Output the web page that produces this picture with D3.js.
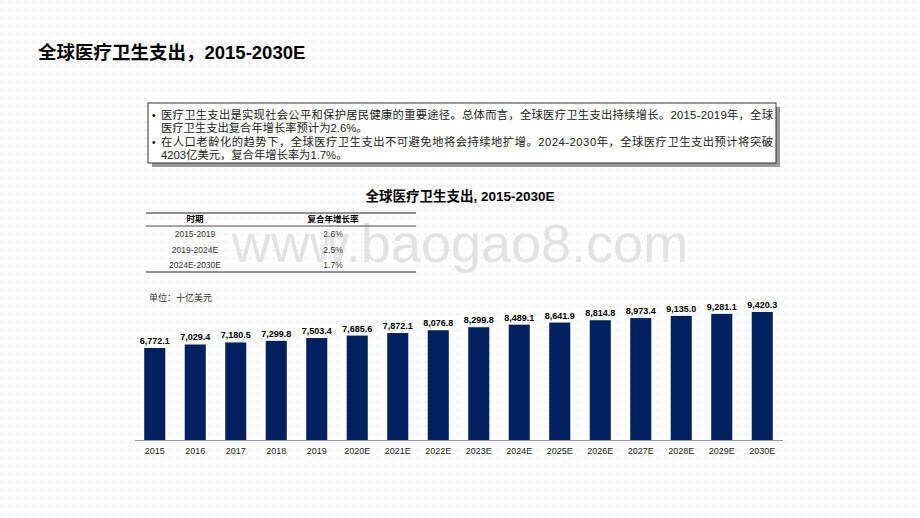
<!DOCTYPE html>
<meta charset="utf-8">
<style>
body { margin: 0; background: #fff; font-family: "Liberation Sans", "Noto Sans CJK SC", sans-serif; }
</style>
<body>
<svg id="chart" width="920" height="518"></svg>
<script src="https://cdn.jsdelivr.net/npm/d3@7"></script>
<script>
var years = ['2015','2016','2017','2018','2019','2020E','2021E','2022E','2023E','2024E','2025E','2026E','2027E','2028E','2029E','2030E'];
var spend = [6772.1,7029.4,7180.5,7299.8,7503.4,7685.6,7872.1,8076.8,8299.8,8489.1,8641.9,8814.8,8973.4,9135.0,9281.1,9420.3];
var periods = ['2015-2019','2019-2024E','2024E-2030E'];
var cagr = ['2.6%','2.5%','1.7%'];
var bullets = [
    ['医疗卫生支出是实现社会公平和保护居民健康的重要途径。总体而言，全球医疗卫生支出持续增长。2015-2019年，全球', '医疗卫生支出复合年增长率预计为2.6%。'],
    ['在人口老龄化的趋势下，全球医疗卫生支出不可避免地将会持续地扩增。2024-2030年，全球医疗卫生支出预计将突破', '4203亿美元，复合年增长率为1.7%。']
];

var svg = d3.select('#chart');
var defs = svg.append('defs');
var pat = defs.append('pattern').attr('id', 'dots').attr('width', 8).attr('height', 8).attr('patternUnits', 'userSpaceOnUse');
pat.append('circle').attr('cx', 2).attr('cy', 2).attr('r', 0.6).attr('fill', '#c9b7b7');
svg.append('rect').attr('width', 920).attr('height', 518).attr('fill', 'url(#dots)');

svg.append('text').attr('x', 38).attr('y', 59).attr('font-size', 18.5).attr('font-weight', 'bold').text('全球医疗卫生支出，2015-2030E');

// bullet box
svg.append('rect').attr('x', 152).attr('y', 107).attr('width', 628).attr('height', 60).attr('fill', '#999');
svg.append('rect').attr('x', 148).attr('y', 103).attr('width', 628).attr('height', 60).attr('fill', '#fff').attr('stroke', '#333');
bullets.forEach(function(b, i) {
    var y0 = 119 + i * 27;
    svg.append('text').attr('x', 152).attr('y', y0).attr('font-size', 10).text('•');
    b.forEach(function(line, j) {
        svg.append('text').attr('x', 161).attr('y', y0 + j * 13).attr('font-size', 11.3)
            .attr('textLength', j == 0 ? 612 : null).attr('fill', '#222').text(line);
    });
});

// watermark
svg.append('text').attr('x', 460).attr('y', 262).attr('text-anchor', 'middle').attr('font-size', 54)
    .attr('fill', '#ddd').attr('opacity', 0.8).text('www.baogao8.com');

svg.append('text').attr('x', 460).attr('y', 201).attr('text-anchor', 'middle').attr('font-size', 13.5).attr('font-weight', 'bold').text('全球医疗卫生支出, 2015-2030E');

// CAGR table
[213, 226, 272].forEach(function(y, i) {
    svg.append('line').attr('x1', 146).attr('x2', 416).attr('y1', y).attr('y2', y).attr('stroke', '#222').attr('stroke-width', i == 1 ? 0.8 : 1);
});
svg.append('text').attr('x', 195).attr('y', 222).attr('text-anchor', 'middle').attr('font-size', 8.5).attr('font-weight', 'bold').text('时期');
svg.append('text').attr('x', 333).attr('y', 222).attr('text-anchor', 'middle').attr('font-size', 8.5).attr('font-weight', 'bold').text('复合年增长率');
periods.forEach(function(p, i) {
    var y = 237 + i * 15.5;
    svg.append('text').attr('x', 195).attr('y', y).attr('text-anchor', 'middle').attr('font-size', 8.5).attr('fill', '#333').text(p);
    svg.append('text').attr('x', 333).attr('y', y).attr('text-anchor', 'middle').attr('font-size', 8.5).attr('fill', '#333').text(cagr[i]);
});

svg.append('text').attr('x', 149).attr('y', 301).attr('font-size', 9).attr('fill', '#333').text('单位：十亿美元');

// bars
var x = d3.scaleBand().domain(years).range([134.5, 782.5]).paddingInner(0.48).paddingOuter(0.24);
var y = d3.scaleLinear().domain([0, 9420.3]).range([440, 312]);

svg.append('g').selectAll('rect').data(spend).join('rect')
    .attr('x', function(d, i) { return x(years[i]); })
    .attr('y', function(d) { return y(d); })
    .attr('width', x.bandwidth())
    .attr('height', function(d) { return 440 - y(d); })
    .attr('fill', '#002060');

svg.append('g').selectAll('text').data(spend).join('text')
    .attr('x', function(d, i) { return x(years[i]) + x.bandwidth() / 2; })
    .attr('y', function(d) { return y(d) - 4; })
    .attr('text-anchor', 'middle').attr('font-size', 9).attr('font-weight', 'bold')
    .text(d3.format(',.1f'));

var ax = svg.append('g').attr('transform', 'translate(0,440)')
    .call(d3.axisBottom(x).tickSize(0).tickPadding(8));
ax.select('.domain').attr('stroke', '#999');
ax.selectAll('text').attr('font-size', 9).attr('fill', '#222').attr('font-family', '"Liberation Sans", sans-serif');
</script>
</body>
